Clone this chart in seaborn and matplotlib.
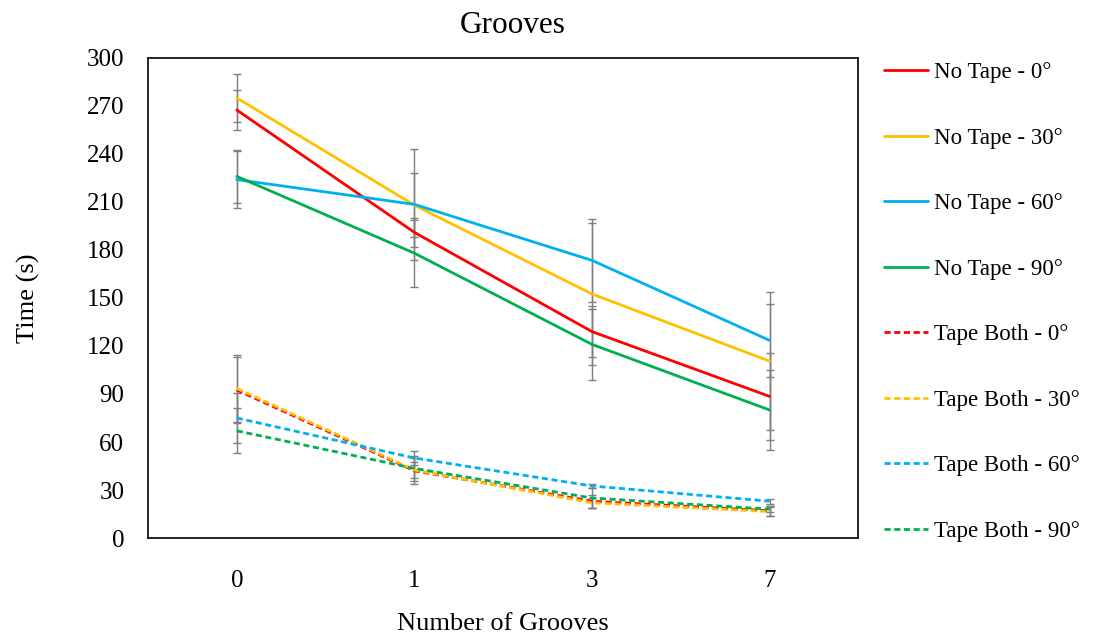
import numpy as np
import pandas as pd
import matplotlib
matplotlib.use("Agg")
import matplotlib.pyplot as plt
import seaborn as sns

# Groove counts on the x axis (plotted as evenly spaced categories)
grooves = ["0", "1", "3", "7"]

series_names = [
    "No Tape - 0°", "No Tape - 30°", "No Tape - 60°", "No Tape - 90°",
    "Tape Both - 0°", "Tape Both - 30°", "Tape Both - 60°", "Tape Both - 90°",
]

# Mean times (s)
no_tape_0 = [267.5, 191.0, 129.0, 88.5]
no_tape_30 = [275.0, 208.0, 152.5, 110.5]
no_tape_60 = [224.0, 208.5, 173.5, 123.5]
no_tape_90 = [226.0, 178.0, 121.0, 80.0]
tape_both_0 = [92.5, 42.0, 23.0, 17.0]
tape_both_30 = [93.5, 42.5, 22.0, 16.5]
tape_both_60 = [75.0, 50.0, 32.5, 23.0]
tape_both_90 = [67.0, 43.5, 25.0, 18.0]

# Error bar half-widths (s)
no_tape_0_err = [12.3, 9.0, 16.0, 27.0]
no_tape_30_err = [15.0, 20.0, 44.5, 43.0]
no_tape_60_err = [18.0, 34.5, 26.0, 23.0]
no_tape_90_err = [16.5, 21.0, 22.0, 25.0]
tape_both_0_err = [20.4, 8.0, 4.0, 3.0]
tape_both_30_err = [21.0, 5.0, 3.0, 2.7]
tape_both_60_err = [15.6, 4.6, 1.5, 1.5]
tape_both_90_err = [14.0, 8.0, 6.0, 2.0]

means = [no_tape_0, no_tape_30, no_tape_60, no_tape_90,
         tape_both_0, tape_both_30, tape_both_60, tape_both_90]
errors = [no_tape_0_err, no_tape_30_err, no_tape_60_err, no_tape_90_err,
          tape_both_0_err, tape_both_30_err, tape_both_60_err, tape_both_90_err]

colors = ["#FF0000", "#FFC000", "#00B0F0", "#00B050"] * 2

rows = []
for name, vals in zip(series_names, means):
    for i, v in enumerate(vals):
        rows.append({"pos": i, "grooves": grooves[i], "series": name, "time": v})
df = pd.DataFrame(rows)

sns.set_theme(style="white")
plt.rcParams["font.family"] = ["Liberation Serif", "DejaVu Serif"]
plt.rcParams["text.color"] = "black"
plt.rcParams["axes.labelcolor"] = "black"

fig = plt.figure(figsize=(11.16, 6.37), dpi=100)
ax = fig.add_axes([0.1326, 0.1554, 0.6366, 0.7536])

palette = dict(zip(series_names, colors))
dash_map = {n: "" for n in series_names[:4]}
dash_map.update({n: (2.2, 1.3) for n in series_names[4:]})

# Error bars underneath the lines
for name, vals, err in zip(series_names, means, errors):
    ax.errorbar(range(len(grooves)), vals, yerr=err, fmt="none",
                ecolor="#7F7F7F", elinewidth=1.0, capsize=3.0,
                capthick=1.0, zorder=1)

sns.lineplot(data=df, x="pos", y="time", hue="series", style="series",
             hue_order=series_names, style_order=series_names,
             palette=palette, dashes=dash_map, linewidth=2.0,
             ax=ax, zorder=3)

ax.set_xlim(-0.5, len(grooves) - 0.5)
ax.set_xticks(range(len(grooves)))
ax.set_xticklabels(grooves)
ax.set_ylim(0, 300)
ax.set_yticks(np.arange(0, 301, 30))
ax.tick_params(axis="both", length=0, labelsize=18, colors="black")
ax.tick_params(axis="y", pad=17)
ax.tick_params(axis="x", pad=23)

for s in ax.spines.values():
    s.set_visible(True)
    s.set_color("black")
    s.set_linewidth(1.2)

ax.set_title("Grooves", fontsize=22.5, pad=18, color="black", x=0.513)
ax.set_xlabel("Number of Grooves", fontsize=19, labelpad=15, color="black")
ax.set_ylabel("Time (s)", fontsize=19, labelpad=34, color="black")

handles, labels = ax.get_legend_handles_labels()
ax.legend_.remove()
fig.legend(handles, labels, loc="upper left", bbox_to_anchor=(0.774, 0.935),
           frameon=False, fontsize=16.5, handlelength=1.9, handletextpad=0.25,
           labelspacing=1.94, labelcolor="black")

fig.savefig("out.png", dpi=100, facecolor="white")
